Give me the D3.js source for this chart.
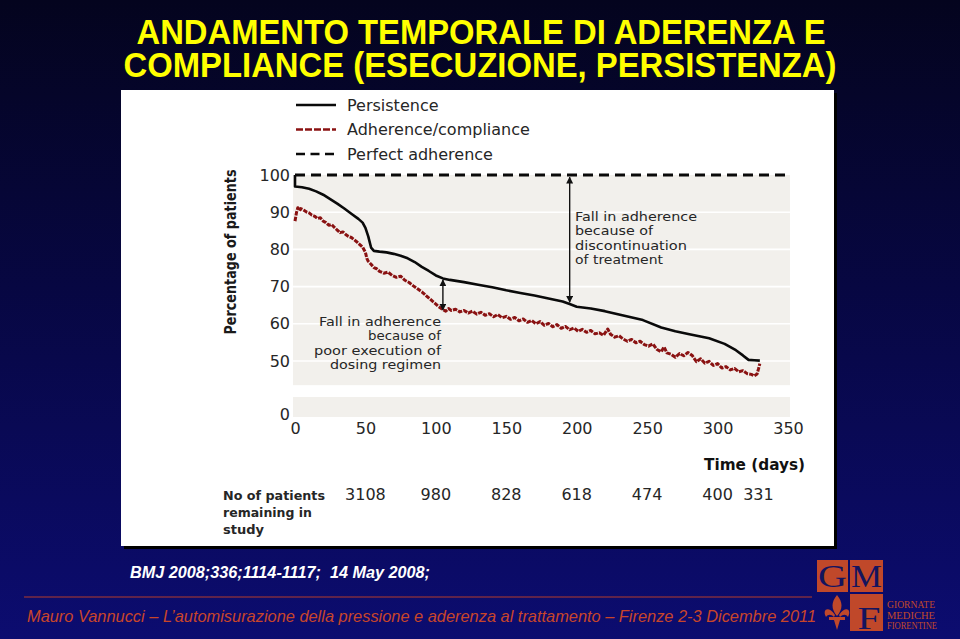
<!DOCTYPE html>
<html><head><meta charset="utf-8">
<script src="https://cdn.jsdelivr.net/npm/d3@7"></script>
<style>
html,body{margin:0;padding:0;background:#08084a;}
svg{display:block;}
</style></head><body>
<svg id="c" width="960" height="639"></svg>
<script>
// ---------------- DATA ----------------
const titleLines = ["ANDAMENTO TEMPORALE DI ADERENZA E", "COMPLIANCE (ESECUZIONE, PERSISTENZA)"];
const legendLabels = ["Persistence", "Adherence/compliance", "Perfect adherence"];
const yTicks = [50, 60, 70, 80, 90, 100];
const yLowTicks = [0];
const xTicks = [0, 50, 100, 150, 200, 250, 300, 350];
const gridValues = [50, 60, 70, 80, 90];

const persistDays = [0,0,5,10,15,20,25,30,35,40,45,48,50,52,54,56,60,65,70,75,80,85,90,95,100,105,110,120,130,140,150,160,170,180,190,195,200,210,220,230,247,260,270,280,294,305,313,318,322,326,330];
const persistVals = [100,96.9,96.7,96.3,95.6,94.7,93.5,92.3,91.0,89.6,88.2,87.2,85.8,83.5,80.5,79.6,79.4,79.2,78.8,78.3,77.6,76.6,75.3,74.2,73.0,72.2,71.8,71.2,70.5,69.8,69.0,68.3,67.6,66.8,66.0,65.3,64.6,64.1,63.4,62.5,61.0,59.0,58.0,57.2,56.1,54.6,52.9,51.5,50.3,50.2,50.1];

const adhDays = [0,1,2,3,4,6,8,10,12,14,16,18,20,22,24,26,28,30,32,34,36,38,40,42,44,46,48,50,51,52,54,56,58,60,63,66,69,72,75,78,81,84,87,90,93,96,99,102,105,107,109,111,114,117,120,123,126,129,132,135,138,141,144,147,150,153,156,159,162,165,168,171,174,177,180,183,186,189,192,195,198,201,204,207,210,213,216,219,222,224,227,230,233,236,239,242,245,248,251,254,257,260,262,264,267,270,273,276,279,282,285,288,291,294,297,300,303,306,309,312,315,318,321,324,326,328,329,330];
const adhVals = [87.6,89.8,91.2,90.4,91.0,90.6,90.1,89.8,89.2,88.9,88.3,88.5,87.6,87.2,86.5,86.7,85.9,85.2,84.5,84.7,84.0,83.5,83.2,82.6,82.0,81.3,80.6,79.2,77.6,76.8,76.0,75.1,74.8,74.1,73.6,73.9,73.0,72.5,72.8,71.7,71.1,70.2,69.4,68.6,67.6,66.6,65.6,64.6,63.8,63.4,64.1,63.6,63.9,63.2,63.6,62.9,63.4,62.6,63.1,62.3,62.7,61.9,62.5,61.6,62.0,61.2,61.7,60.8,61.3,60.4,60.9,60.0,60.6,59.6,60.1,59.2,59.8,58.8,59.3,58.4,58.9,58.0,58.5,57.7,58.2,57.3,57.6,56.9,58.6,57.2,56.4,56.8,55.9,55.3,55.8,54.9,55.3,54.4,54.0,54.6,53.1,52.5,53.8,52.2,51.8,51.0,52.0,51.4,52.3,51.5,49.8,50.6,49.4,49.9,48.8,49.3,48.1,48.5,47.6,48.0,47.1,47.4,46.6,46.4,46.0,46.5,47.8,49.3];

const perfectDays = [0, 350];
const perfectVals = [100, 100];

// arrows: day, from value, to value
const arrowDays = [105, 195];
const arrowFrom = [71.8, 99.4];
const arrowTo = [63.7, 65.8];

const noteLeft = ["Fall in adherence", "because of", "poor execution of", "dosing regimen"];
const noteRight = ["Fall in adherence", "because of", "discontinuation", "of treatment"];

const countDays = [50, 100, 150, 200, 250, 300, 329];
const countLabels = ["3108", "980", "828", "618", "474", "400", "331"];
const countTitle = ["No of patients", "remaining in", "study"];

const citation = "BMJ 2008;336;1114-1117;  14 May 2008;";
const footer = "Mauro Vannucci \u2013 L\u2019automisurazione della pressione e aderenza al trattamento \u2013 Firenze 2-3 Dicembre 2011";
const logoWords = ["GIORNATE", "MEDICHE", "FIORENTINE"];

// ---------------- DRAW ----------------
const svg = d3.select("#c");
const defs = svg.append("defs");
const grad = defs.append("linearGradient").attr("id", "bg").attr("x1", 0).attr("y1", 0).attr("x2", 0).attr("y2", 1);
grad.append("stop").attr("offset", 0).attr("stop-color", "#04041e");
grad.append("stop").attr("offset", 0.45).attr("stop-color", "#070742");
grad.append("stop").attr("offset", 1).attr("stop-color", "#0c0c70");

const mk = defs.append("marker").attr("id", "ah").attr("viewBox", "0 0 10 10")
  .attr("refX", 9).attr("refY", 5).attr("markerWidth", 7).attr("markerHeight", 7)
  .attr("markerUnits", "userSpaceOnUse").attr("orient", "auto-start-reverse");
mk.append("path").attr("d", "M0,0L10,5L0,10Z").attr("fill", "#111");

svg.append("rect").attr("width", 960).attr("height", 639).attr("fill", "url(#bg)");

// title (one text block, two lines)
const titleX = [481, 480];
const titleY = [44, 77];
const titleLen = [689, 713];
svg.append("text")
  .attr("text-anchor", "middle")
  .style("font-family", "'Liberation Sans Narrow','Liberation Sans',Arial,sans-serif")
  .style("font-weight", "bold").style("font-size", "35px").attr("fill", "#ffff00")
  .selectAll("tspan").data(titleLines).join("tspan")
  .attr("x", (d, i) => titleX[i]).attr("y", (d, i) => titleY[i])
  .attr("textLength", (d, i) => titleLen[i]).attr("lengthAdjust", "spacingAndGlyphs")
  .text(d => d);

// white panel
svg.append("rect").attr("x", 124).attr("y", 93).attr("width", 713).attr("height", 456).attr("fill", "#000");
svg.append("rect").attr("x", 121).attr("y", 90).attr("width", 713).attr("height", 456).attr("fill", "#ffffff");

const x = d3.scaleLinear().domain([0, 350]).range([295, 788]);
const y = d3.scaleLinear().domain([100, 50]).range([175, 361]);
const yLow = d3.scaleLinear().domain([0, 5.4]).range([417, 397]);

const font = "'DejaVu Sans',Verdana,sans-serif";
const ink = "#262626";

// plot bands
svg.append("rect").attr("x", x(0) - 2).attr("y", y(100)).attr("width", x(350) - x(0) + 4)
  .attr("height", y(43.5) - y(100)).attr("fill", "#f2f0ec");
svg.append("rect").attr("x", x(0) - 2).attr("y", yLow(5.4)).attr("width", x(350) - x(0) + 4)
  .attr("height", yLow(0) - yLow(5.4)).attr("fill", "#f2f0ec");
svg.selectAll(".grid").data(gridValues).join("line")
  .attr("x1", x(0) - 2).attr("x2", x(350) + 2)
  .attr("y1", d => y(d)).attr("y2", d => y(d))
  .attr("stroke", "#ffffff").attr("stroke-width", 1.6);

// axes
function styleAxis(g) {
  g.select(".domain").remove();
  g.selectAll("text").style("font-family", font).style("font-size", "16px").attr("fill", ink);
}
svg.append("g").attr("transform", "translate(290,0)")
  .call(d3.axisLeft(y).tickValues(yTicks).tickSize(0).tickPadding(0).tickFormat(d3.format("d")))
  .call(styleAxis);
svg.append("g").attr("transform", "translate(290,-3)")
  .call(d3.axisLeft(yLow).tickValues(yLowTicks).tickSize(0).tickPadding(0).tickFormat(d3.format("d")))
  .call(styleAxis);
svg.append("g").attr("transform", "translate(0,423)")
  .call(d3.axisBottom(x).tickValues(xTicks).tickSize(0).tickPadding(0).tickFormat(d3.format("d")))
  .call(styleAxis);

// y-axis title
svg.append("text").attr("transform", "translate(236,252) rotate(-90)")
  .attr("text-anchor", "middle").attr("textLength", 165).attr("lengthAdjust", "spacingAndGlyphs")
  .style("font-family", font).style("font-weight", "bold").style("font-size", "15px").attr("fill", "#1a1a1a")
  .text("Percentage of patients");

// x-axis title
svg.append("text").attr("x", 805).attr("y", 470).attr("text-anchor", "end")
  .attr("textLength", 101).attr("lengthAdjust", "spacingAndGlyphs")
  .style("font-family", font).style("font-weight", "bold").style("font-size", "15px").attr("fill", "#111")
  .text("Time (days)");

// lines
const line = d3.line().x(d => x(d[0])).y(d => y(d[1]));
const perfectData = perfectDays.map((d, i) => [d, perfectVals[i]]);
const persistData = persistDays.map((d, i) => [d, persistVals[i]]);
const adhData = adhDays.map((d, i) => [d, adhVals[i]]);

svg.append("path").datum(adhData).attr("d", line).attr("fill", "none")
  .attr("stroke", "#8a1212").attr("stroke-width", 3).attr("stroke-dasharray", "4.5,1.2")
  .attr("stroke-linejoin", "round");
svg.append("path").datum(persistData).attr("d", line).attr("fill", "none")
  .attr("stroke", "#0a0a0a").attr("stroke-width", 2.6).attr("stroke-linejoin", "round");
svg.append("path").datum(perfectData).attr("d", line).attr("fill", "none")
  .attr("stroke", "#0a0a0a").attr("stroke-width", 2.8).attr("stroke-dasharray", "10,6");

// arrows
svg.selectAll(".arrow").data(arrowDays).join("line")
  .attr("x1", d => x(d)).attr("x2", d => x(d))
  .attr("y1", (d, i) => y(arrowFrom[i])).attr("y2", (d, i) => y(arrowTo[i]))
  .attr("stroke", "#111").attr("stroke-width", 1.4)
  .attr("marker-start", "url(#ah)").attr("marker-end", "url(#ah)");

// annotations
const leftBase = [326, 340, 355, 369];
const leftLen = [122, 73, 127, 111];
svg.selectAll(".nl").data(noteLeft).join("text")
  .attr("x", 441).attr("y", (d, i) => leftBase[i]).attr("text-anchor", "end")
  .attr("textLength", (d, i) => leftLen[i]).attr("lengthAdjust", "spacingAndGlyphs")
  .style("font-family", font).style("font-size", "13px").attr("fill", ink).text(d => d);
const rightBase = [221, 235, 250, 264];
const rightLen = [122, 78, 112, 88];
svg.selectAll(".nr").data(noteRight).join("text")
  .attr("x", 575).attr("y", (d, i) => rightBase[i])
  .attr("textLength", (d, i) => rightLen[i]).attr("lengthAdjust", "spacingAndGlyphs")
  .style("font-family", font).style("font-size", "13px").attr("fill", ink).text(d => d);

// legend
const legRowY = [105, 129.5, 154];
const legStroke = ["#0a0a0a", "#8a1212", "#0a0a0a"];
const legDash = [null, "7,2", "9,5.5"];
const lg = svg.selectAll(".leg").data(legendLabels).join("g");
lg.append("line").attr("x1", 296).attr("x2", 336)
  .attr("y1", (d, i) => legRowY[i]).attr("y2", (d, i) => legRowY[i])
  .attr("stroke", (d, i) => legStroke[i]).attr("stroke-width", 2.6)
  .attr("stroke-dasharray", (d, i) => legDash[i]);
lg.append("text").attr("x", 347).attr("y", (d, i) => legRowY[i] + 5.5)
  .style("font-family", font).style("font-size", "16px").attr("fill", ink).text(d => d);

// patient counts
svg.selectAll(".cnt").data(countLabels).join("text")
  .attr("x", (d, i) => x(countDays[i])).attr("y", 500).attr("text-anchor", "middle")
  .style("font-family", font).style("font-size", "16px").attr("fill", ink).text(d => d);
const ctLen = [102, 89, 41];
svg.selectAll(".ct").data(countTitle).join("text")
  .attr("x", 223).attr("y", (d, i) => 500 + i * 17)
  .attr("textLength", (d, i) => ctLen[i]).attr("lengthAdjust", "spacingAndGlyphs")
  .style("font-family", font).style("font-weight", "bold").style("font-size", "13px").attr("fill", ink)
  .text(d => d);

// citation
svg.append("text").attr("x", 130).attr("y", 578)
  .attr("textLength", 300).attr("lengthAdjust", "spacingAndGlyphs")
  .style("white-space", "pre")
  .style("font-family", "'Liberation Sans',Arial,sans-serif").style("font-weight", "bold").style("font-style", "italic")
  .style("font-size", "16px").attr("fill", "#ffffff").text(citation);

// footer
svg.append("line").attr("x1", 24).attr("x2", 812).attr("y1", 597).attr("y2", 597)
  .attr("stroke", "#7d2c40").attr("stroke-width", 1.5);
svg.append("text").attr("x", 27).attr("y", 622)
  .attr("textLength", 789).attr("lengthAdjust", "spacingAndGlyphs")
  .style("font-family", "'Liberation Sans',Arial,sans-serif").style("font-style", "italic")
  .style("font-size", "16.4px").attr("fill", "#c8452a").text(footer);

// logo
const logoC = "#c0482a", navy = "#14145e";
const serif = "'Liberation Serif','DejaVu Serif',serif";
const logo = svg.append("g");
logo.append("rect").attr("x", 817).attr("y", 560).attr("width", 31).attr("height", 32).attr("fill", logoC);
logo.append("rect").attr("x", 850).attr("y", 560).attr("width", 33).attr("height", 32).attr("fill", logoC);
logo.append("rect").attr("x", 850).attr("y", 594).attr("width", 33).attr("height", 37).attr("fill", logoC);
logo.append("text").attr("x", 832.5).attr("y", 587).attr("text-anchor", "middle")
  .attr("textLength", 29).attr("lengthAdjust", "spacingAndGlyphs")
  .style("font-family", serif).style("font-size", "32px").attr("fill", navy).text("G");
logo.append("text").attr("x", 866.5).attr("y", 587).attr("text-anchor", "middle")
  .attr("textLength", 31).attr("lengthAdjust", "spacingAndGlyphs")
  .style("font-family", serif).style("font-size", "32px").attr("fill", navy).text("M");
logo.append("text").attr("x", 869).attr("y", 629).attr("text-anchor", "middle")
  .attr("textLength", 23).attr("lengthAdjust", "spacingAndGlyphs")
  .style("font-family", serif).style("font-size", "31px").attr("fill", navy).text("F");
// fleur-de-lis drawn as a shape
logo.append("path").attr("transform", "translate(837,612)")
  .attr("d", "M0,-17C6,-10 6,-3 0,4C-6,-3 -6,-10 0,-17Z" +
             "M-2,3C-9,-7 -15,-2 -11,5C-9,2 -6,2 -3,5Z" +
             "M2,3C9,-7 15,-2 11,5C9,2 6,2 3,5Z" +
             "M-8,5H8V8H-8Z" +
             "M-3,8H3L0,18Z")
  .attr("fill", logoC);
const lwLen = [48, 48, 50];
logo.selectAll(".lw").data(logoWords).join("text")
  .attr("x", 887).attr("y", (d, i) => 608 + i * 10.5)
  .attr("textLength", (d, i) => lwLen[i]).attr("lengthAdjust", "spacingAndGlyphs")
  .style("font-family", serif).style("font-size", "10px").attr("fill", logoC)
  .text(d => d);
</script></body></html>
